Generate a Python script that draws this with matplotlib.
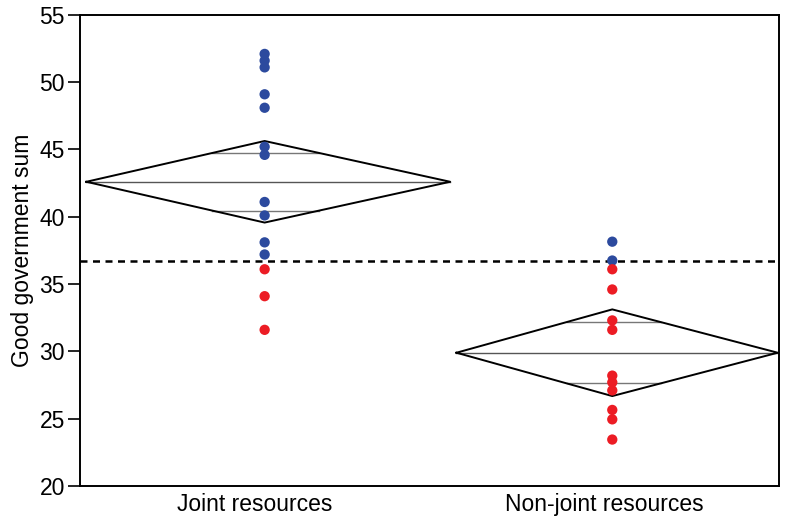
import numpy as np
import matplotlib
matplotlib.use("Agg")
import matplotlib.pyplot as plt

plt.rcParams['font.family'] = ['Liberation Sans', 'DejaVu Sans']

# data
groups = ["Joint resources", "Non-joint resources"]
joint = [52.1, 51.6, 51.1, 49.1, 48.1, 45.2, 44.6, 41.1, 40.1, 38.1, 37.2, 36.1, 34.1, 31.6]
nonjoint = [38.15, 36.75, 36.1, 34.6, 32.3, 31.6, 28.2, 27.7, 27.1, 25.65, 24.95, 23.45]
means = [42.6, 29.9]
ci_half = [3.03, 3.22]       # half height of the mean diamonds
threshold = 36.7             # dashed reference line

blue = "#2c4a9e"
red = "#ec1c24"

fig = plt.figure(figsize=(7.85, 5.22), dpi=100)
ax = fig.add_axes([0.102, 0.069, 0.8905, 0.9025])

# group widths proportional to sample size, like the JMP layout
counts = np.array([len(joint), len(nonjoint)])
edges = np.concatenate([[0], np.cumsum(counts) / counts.sum()])
pads = [(0.009, 0.009), (0.0, 0.002)]

for i, vals in enumerate([joint, nonjoint]):
    lo, hi = edges[i] + pads[i][0], edges[i + 1] - pads[i][1]
    mid = lo + (hi - lo) * (0.49 if i == 0 else 0.485)
    m, h = means[i], ci_half[i]
    # diamond
    ax.plot([lo, mid, hi, mid, lo], [m, m + h, m, m - h, m], color="black", lw=1.4, zorder=3)
    # mean line
    ax.plot([lo, hi], [m, m], color="#555555", lw=1.0, zorder=2)
    # overlap marks, ending on the diamond edges
    d = h / np.sqrt(2)
    f = 1 - d / h
    for y in (m + d, m - d):
        ax.plot([mid - (mid - lo) * f, mid + (hi - mid) * f], [y, y], color="#777777", lw=1.0, zorder=2)
    vals = np.array(vals)
    cols = np.where(vals >= threshold, blue, red)
    ax.scatter(np.full(len(vals), mid), vals, s=55, c=cols, edgecolors="none", zorder=4)

ax.axhline(threshold, color="black", lw=1.8, ls=(0, (2.8, 2.2)), zorder=1)

ax.set_xlim(0, 1)
ax.set_ylim(20, 55)
ax.set_yticks(np.arange(20, 56, 5))
# category labels sit in equal halves of the axis
ax.set_xticks((np.arange(len(groups)) + 0.5) / len(groups))
ax.set_xticklabels(groups)
ax.tick_params(axis='x', length=0, labelsize=16.5, pad=5)
ax.tick_params(axis='y', length=9, width=1.2, labelsize=16.5, pad=2)
ax.set_ylabel("Good government sum", fontsize=16.5, labelpad=4)
for s in ax.spines.values():
    s.set_linewidth(1.4)

fig.savefig("out.png", dpi=100)
